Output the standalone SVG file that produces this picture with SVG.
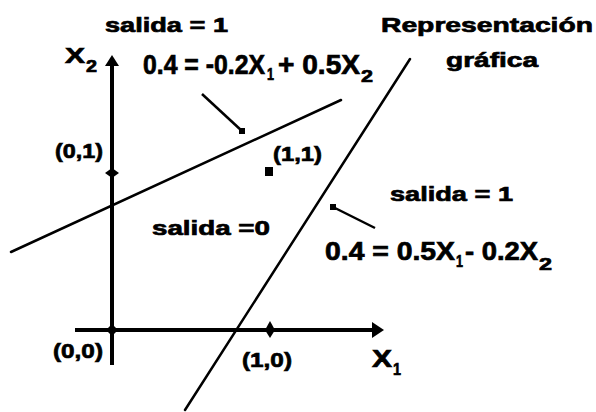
<svg xmlns="http://www.w3.org/2000/svg" width="596" height="412" viewBox="0 0 596 412">
<style>
text{font-family:"Liberation Sans",Arial,sans-serif;font-weight:bold;fill:#000;stroke:#000;stroke-width:0.7}
.ax{stroke:#000;stroke-width:4;fill:none}
.ln{stroke:#000;stroke-width:2.5;fill:none;stroke-linecap:round}
.ld{stroke:#000;stroke-width:2.5;fill:none}
.t20{font-size:21px}
.big{font-size:27px}
.sub{font-size:17px}
</style>
<rect width="596" height="412" fill="#fff"/>
<g id="axes">
<line class="ax" x1="112" y1="365" x2="112" y2="62"/>
<polygon points="112,55 105,66 119,66" fill="#000"/>
<line class="ax" x1="75" y1="330" x2="376" y2="330"/>
<polygon points="384,330 372,322 372,338" fill="#000"/>
<polygon points="112,324 118,330 112,336 106,330" fill="#000"/>
<polygon points="112,168 119,173 112,178 105,173" fill="#000"/>
<polygon points="270,321 275,330 270,338 265,330" fill="#000"/>
</g>
<g id="connectors">
<line class="ln" x1="11" y1="252" x2="341" y2="100"/>
<line class="ln" x1="410" y1="59" x2="185" y2="410"/>
<line class="ld" x1="202" y1="94" x2="242" y2="131"/>
<rect x="239" y="128" width="6" height="6" fill="#000"/>
<line class="ld" x1="333" y1="207" x2="375" y2="228"/>
<rect x="330" y="204" width="6" height="6" fill="#000"/>
<rect x="265" y="167" width="8" height="9" fill="#000"/>
</g>
<g id="labels">
<text class="t20" x="105" y="32" textLength="123" lengthAdjust="spacingAndGlyphs">salida = 1</text>
<text x="65" y="63" font-size="22"><tspan x="65" textLength="20" lengthAdjust="spacingAndGlyphs">X</tspan><tspan x="86" y="72" font-size="16" textLength="11" lengthAdjust="spacingAndGlyphs">2</tspan></text>
<text class="big" x="143" y="74"><tspan x="143" textLength="122" lengthAdjust="spacingAndGlyphs">0.4 = -0.2X</tspan><tspan x="267" y="80" font-size="17" textLength="7" lengthAdjust="spacingAndGlyphs">1</tspan><tspan x="278" y="74" textLength="82" lengthAdjust="spacingAndGlyphs">+ 0.5X</tspan><tspan x="361" y="82" font-size="17" textLength="12" lengthAdjust="spacingAndGlyphs">2</tspan></text>
<text class="t20" x="381" y="32" textLength="212" lengthAdjust="spacingAndGlyphs">Representación</text>
<text class="t20" x="446" y="67" textLength="92" lengthAdjust="spacingAndGlyphs">gráfica</text>
<text class="t20" x="55" y="158" textLength="48" lengthAdjust="spacingAndGlyphs">(0,1)</text>
<text class="t20" x="273" y="161" textLength="49" lengthAdjust="spacingAndGlyphs">(1,1)</text>
<text class="t20" x="152" y="235" textLength="118" lengthAdjust="spacingAndGlyphs">salida =0</text>
<text class="t20" x="390" y="201" textLength="123" lengthAdjust="spacingAndGlyphs">salida = 1</text>
<text x="325" y="260" font-size="25"><tspan x="325" textLength="130" lengthAdjust="spacingAndGlyphs">0.4 = 0.5X</tspan><tspan x="456" y="267" font-size="17" textLength="7" lengthAdjust="spacingAndGlyphs">1</tspan><tspan x="465" y="260" textLength="73" lengthAdjust="spacingAndGlyphs">- 0.2X</tspan><tspan x="539" y="270" font-size="17" textLength="13" lengthAdjust="spacingAndGlyphs">2</tspan></text>
<text x="53" y="358" font-size="21" textLength="50" lengthAdjust="spacingAndGlyphs">(0,0)</text>
<text x="242" y="367" font-size="21" textLength="50" lengthAdjust="spacingAndGlyphs">(1,0)</text>
<text x="372" y="367" font-size="23"><tspan x="372" textLength="20" lengthAdjust="spacingAndGlyphs">X</tspan><tspan x="393" y="375" font-size="17" textLength="8" lengthAdjust="spacingAndGlyphs">1</tspan></text>
</g>
</svg>
